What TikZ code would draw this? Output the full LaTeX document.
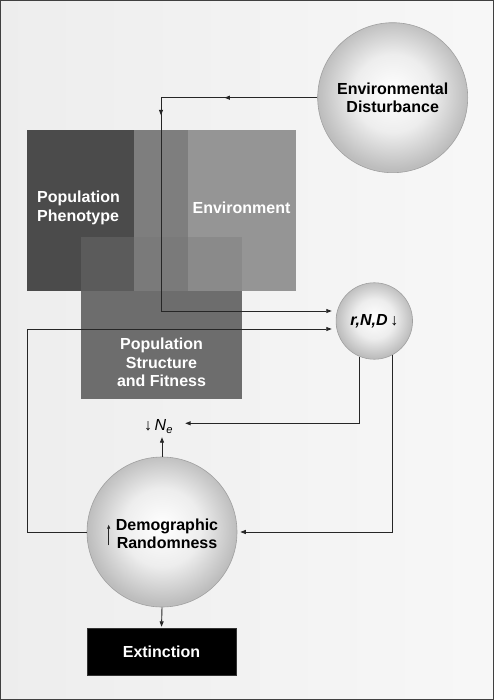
\documentclass[tikz,border=0pt]{standalone}
\usepackage{fontspec}
\setmainfont{Liberation Sans}
\usetikzlibrary{arrows.meta,decorations.markings}

\definecolor{phenoGray}{HTML}{4B4B4B}
\definecolor{envGray}{HTML}{959595}
\definecolor{structGray}{HTML}{6D6D6D}
\definecolor{phenoEnvGray}{HTML}{7E7E7E}
\definecolor{phenoStructGray}{HTML}{5B5B5B}
\definecolor{envStructGray}{HTML}{8A8A8A}
\definecolor{allGray}{HTML}{7A7A7A}
\definecolor{lineGray}{HTML}{262626}
\definecolor{rimGray}{HTML}{A0A0A0}

\pgfdeclareradialshading{sphere}{\pgfpoint{0bp}{2bp}}{%
  color(0bp)=(white); color(13bp)=(white!93!black);
  color(25bp)=(white!74!black); color(50bp)=(white!74!black)}

\begin{document}
\begin{tikzpicture}[x=1pt,y=-1pt,>={Triangle[length=5.5pt,width=4pt]},
  box/.style={inner sep=0pt,minimum width=161.5pt,minimum height=161.5pt},
  lbl/.style={font=\bfseries\fontsize{16}{18.5}\selectfont,align=center,inner sep=0pt},
  ball/.style={circle,shading=sphere,draw=rimGray,line width=0.6pt,inner sep=0pt},
  conn/.style={draw=lineGray,line width=0.9pt,->},
  midtips/.style={postaction={decorate},decoration={markings,
    mark=at position 93pt with {\arrow{>}},
    mark=at position 174pt with {\arrow{>}}}}]
\useasboundingbox (0,0) rectangle (494,700);
\shade[left color=white!93!black,right color=white!97!black] (0,0) rectangle (494,700);
\draw[draw=black!75,line width=1pt] (0.5,0.5) rectangle (493.5,699.5);

% overlapping squares
\node[box,fill=phenoGray] (pheno) at (107.5,210.5) {};
\node[box,fill=envGray] (env) at (215,210.5) {};
\node[box,fill=structGray] (struct) at (161.5,318) {};
\fill[phenoEnvGray] (env.north west) rectangle (pheno.east |- struct.north);
\fill[phenoStructGray] (struct.north west) rectangle (env.west |- pheno.south);
\fill[envStructGray] (pheno.east |- struct.north) rectangle (struct.east |- env.south);
\fill[allGray] (env.west |- struct.north) rectangle (pheno.south east);

\node[lbl,text=white,anchor=west,align=left] (phenotxt) at (37,208) {Population\\Phenotype};
\node[lbl,text=white] (envtxt) at (241.5,208) {Environment};
\node[lbl,text=white] (structtxt) at (161.5,362.5) {Population\\Structure\\and Fitness};

% spheres
\node[ball,lbl,minimum size=150pt] (envdist) at (392.7,97.7) {Environmental\\Disturbance};
\node[ball,lbl,minimum size=76.5pt] (rnd) at (374.3,321) {\textit{r,N,D}\,{\mdseries ↓}};
\node[ball,minimum size=150pt] (demo) at (162,532) {};
\node[lbl] (demotxt) at (167,534) {Demographic\\Randomness};
\draw[lineGray,line width=0.8pt,-{Triangle[length=4pt,width=3pt]}]
  ([xshift=-7pt,yshift=4pt]demotxt.south west) -- ([xshift=-7pt,yshift=-6pt]demotxt.north west);

\node[lbl,fill=black,text=white,draw=black!80,minimum width=149pt,minimum height=47pt] (ext) at (161.5,651.5) {Extinction};

\node[inner sep=0pt,anchor=base,font=\fontsize{16}{18}\selectfont,
      text height=11.5pt,text depth=2.5pt] (ne) at (158.5,430.5) {↓\,\textit{N}\textsubscript{\textit{e}}};
\coordinate (neIn) at ([xshift=12pt,yshift=2.7pt]ne.east);

% connectors
\draw[conn,midtips] (envdist.west) -| (161,311) -- ([xshift=-4pt]rnd.west |- 0,311);
\draw[conn] (demo.west) -| (27,329) -- ([xshift=-4pt]rnd.west |- 0,329);
\draw[conn] (rnd.-112) |- (neIn);
\draw[conn] (rnd.-62) |- ([xshift=3pt]demo.east);
\draw[conn,shorten >=4pt] (demo.north) -- (demo.north |- ne.south);
\draw[conn,shorten >=1pt] (demo.south) -- (ext.north);
\end{tikzpicture}
\end{document}
